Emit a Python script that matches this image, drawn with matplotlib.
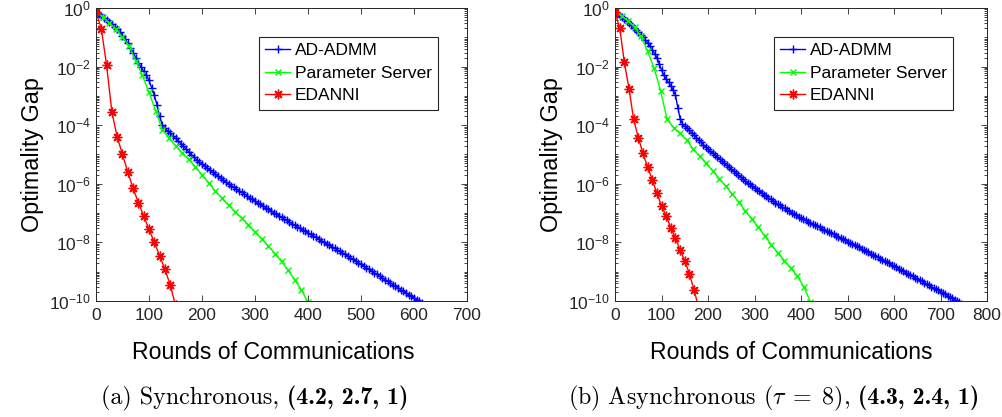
import matplotlib
matplotlib.use("Agg")
import matplotlib.pyplot as plt
import numpy as np
from matplotlib.ticker import FixedLocator, LogLocator, NullFormatter

plt.rcParams["font.family"] = ["Liberation Sans", "DejaVu Sans"]

# ---- data: log10 of optimality gap vs rounds of communications ----
# (a) synchronous
sync_admm_rounds = list(range(0, 620, 5))
sync_admm_log = [
    -0.15, -0.21, -0.28, -0.35, -0.42, -0.49, -0.56, -0.64, -0.73, -0.82,
    -0.94, -1.07, -1.21, -1.36, -1.52, -1.69, -1.86, -2.01, -2.15, -2.30,
    -2.47, -2.72, -2.98, -3.30, -3.70, -3.98, -4.10, -4.19, -4.28, -4.37,
    -4.45, -4.54, -4.63, -4.72, -4.82, -4.91, -5.01, -5.10, -5.18, -5.25,
    -5.32, -5.39, -5.46, -5.53, -5.60, -5.67, -5.74, -5.81, -5.88, -5.94,
    -6.00, -6.06, -6.12, -6.18, -6.24, -6.29, -6.35, -6.41, -6.47, -6.53,
    -6.58, -6.64, -6.70, -6.75, -6.81, -6.87, -6.92, -6.98, -7.04, -7.09,
    -7.15, -7.20, -7.25, -7.31, -7.36, -7.41, -7.46, -7.52, -7.57, -7.62,
    -7.67, -7.73, -7.78, -7.83, -7.88, -7.94, -7.99, -8.04, -8.09, -8.15,
    -8.20, -8.25, -8.31, -8.36, -8.41, -8.47, -8.52, -8.58, -8.64, -8.69,
    -8.75, -8.81, -8.86, -8.92, -8.98, -9.04, -9.09, -9.15, -9.21, -9.27,
    -9.32, -9.38, -9.44, -9.50, -9.55, -9.61, -9.67, -9.73, -9.78, -9.84,
    -9.90, -9.95, -10.01, -10.07,
]
sync_ps_rounds = [i * 12.5 for i in range(33)]
sync_ps_log = [
    -0.15, -0.30, -0.50, -0.72, -1.00, -1.30, -1.80, -2.30, -2.88, -3.50,
    -4.15, -4.43, -4.70, -4.95, -5.17, -5.42, -5.70, -5.97, -6.24, -6.50,
    -6.73, -6.95, -7.18, -7.40, -7.65, -7.88, -8.12, -8.38, -8.65, -8.95,
    -9.28, -9.62, -10.05,
]
sync_ed_rounds = list(range(0, 160, 10))
sync_ed_log = [
    -0.15, -0.70, -1.95, -3.55, -4.40, -5.00, -5.60, -6.15, -6.65, -7.10,
    -7.55, -8.00, -8.45, -8.92, -9.45, -10.15,
]

# (b) asynchronous, tau = 8
async_admm_rounds = list(range(0, 750, 5))
async_admm_log = [
    -0.15, -0.20, -0.26, -0.32, -0.38, -0.44, -0.51, -0.59, -0.67, -0.75,
    -0.83, -0.91, -0.99, -1.08, -1.18, -1.30, -1.43, -1.56, -1.70, -1.90,
    -2.12, -2.30, -2.42, -2.54, -2.66, -2.80, -2.98, -3.40, -3.78, -3.95,
    -4.04, -4.11, -4.18, -4.26, -4.34, -4.42, -4.50, -4.58, -4.66, -4.74,
    -4.81, -4.88, -4.95, -5.02, -5.09, -5.16, -5.23, -5.30, -5.37, -5.44,
    -5.51, -5.57, -5.64, -5.71, -5.77, -5.84, -5.90, -5.96, -6.02, -6.08,
    -6.14, -6.20, -6.26, -6.31, -6.37, -6.42, -6.48, -6.53, -6.58, -6.64,
    -6.69, -6.74, -6.79, -6.84, -6.89, -6.94, -6.98, -7.03, -7.08, -7.12,
    -7.16, -7.21, -7.25, -7.29, -7.33, -7.37, -7.41, -7.45, -7.49, -7.53,
    -7.57, -7.61, -7.65, -7.69, -7.73, -7.77, -7.81, -7.85, -7.89, -7.93,
    -7.97, -8.01, -8.05, -8.09, -8.13, -8.17, -8.21, -8.26, -8.30, -8.34,
    -8.38, -8.42, -8.47, -8.51, -8.55, -8.59, -8.64, -8.68, -8.72, -8.77,
    -8.81, -8.85, -8.90, -8.94, -8.98, -9.03, -9.07, -9.11, -9.16, -9.20,
    -9.24, -9.29, -9.33, -9.37, -9.42, -9.46, -9.51, -9.55, -9.59, -9.64,
    -9.68, -9.73, -9.77, -9.82, -9.86, -9.91, -9.95, -10.00, -10.04, -10.09,
]
async_ps_rounds = list(range(0, 421, 14))
async_ps_log = [
    -0.15, -0.28, -0.43, -0.66, -0.97, -1.48, -2.05, -2.83, -3.80, -4.08,
    -4.28, -4.50, -4.82, -5.06, -5.30, -5.55, -5.82, -6.08, -6.35, -6.63,
    -6.92, -7.20, -7.48, -7.78, -8.08, -8.36, -8.62, -8.88, -9.15, -9.52,
    -10.02,
]
async_ed_rounds = list(range(0, 190, 10))
async_ed_log = [
    -0.15, -0.68, -1.85, -2.75, -3.80, -4.42, -4.96, -5.42, -5.86, -6.32,
    -6.75, -7.10, -7.50, -7.86, -8.26, -8.63, -9.08, -9.62, -10.25,
]

labels = ["AD-ADMM", "Parameter Server", "EDANNI"]
colors = ["#0000ff", "#00ff00", "#ff0000"]
markers = ["+", "x", (8, 2, 0)]
msizes = [5.5, 4.5, 7]

panels = [
    dict(series=[(sync_admm_rounds, sync_admm_log), (sync_ps_rounds, sync_ps_log),
                 (sync_ed_rounds, sync_ed_log)],
         xmax=700, rect=[0.0958, 0.2782, 0.3703, 0.7026], leg_x=0.439,
         caption=[("(a) Synchronous, ", "cmr10"), ("(4.2, 2.7, 1)", "cmb10")],
         cap_x=255, xlab_x=0.478),
    dict(series=[(async_admm_rounds, async_admm_log), (async_ps_rounds, async_ps_log),
                 (async_ed_rounds, async_ed_log)],
         xmax=800, rect=[0.6138, 0.2782, 0.3713, 0.7026], leg_x=0.427,
         caption=[(r"(b) Asynchronous ($\tau\;=\;8$),", "cmr10"), (" (4.3, 2.4, 1)", "cmb10")],
         cap_x=774, xlab_x=0.474),
]

W, H = 1002, 417
fig = plt.figure(figsize=(W / 100, H / 100), dpi=100)
spine_col = "#262626"
renderer = fig.canvas.get_renderer()


def put_caption(parts, xc_px, y_px, size):
    """Place a caption made of pieces in different fonts, centred on xc_px."""
    texts = [fig.text(0, 1 - y_px / H, s, fontfamily=fam, fontsize=size, va="baseline",
                      math_fontfamily="cm") for s, fam in parts]
    widths = [t.get_window_extent(renderer).width for t in texts]
    x = xc_px - sum(widths) / 2
    for t, w in zip(texts, widths):
        t.set_x(x / W)
        x += w


for p in panels:
    ax = fig.add_axes(p["rect"])
    for (xs, ys), lab, c, m, ms in zip(p["series"], labels, colors, markers, msizes):
        ax.semilogy(xs, np.power(10.0, ys), color=c, marker=m, ms=ms, mew=1.0, lw=1.0, label=lab)
    ax.set_xlim(0, p["xmax"])
    ax.set_ylim(1e-10, 1)
    ax.set_xticks(np.arange(0, p["xmax"] + 1, 100))
    ax.yaxis.set_major_locator(FixedLocator([10.0 ** k for k in range(-10, 1, 2)]))
    ax.yaxis.set_minor_locator(LogLocator(base=10, subs=np.arange(1, 10), numticks=30))
    ax.yaxis.set_minor_formatter(NullFormatter())
    ax.tick_params(which="both", direction="in", top=True, right=True, colors=spine_col,
                   labelsize=12.5, width=0.6)
    ax.tick_params(which="major", length=4)
    ax.tick_params(which="minor", length=2)
    ax.tick_params(axis="x", pad=5)
    for s in ax.spines.values():
        s.set_color(spine_col)
        s.set_linewidth(0.7)
    ax.set_xlabel("Rounds of Communications", fontsize=16.6)
    ax.xaxis.set_label_coords(p["xlab_x"], -0.138)
    ax.set_ylabel("Optimality Gap", fontsize=16.8, labelpad=4)
    leg = ax.legend(loc="upper left", bbox_to_anchor=(p["leg_x"], 0.901), borderaxespad=0,
                    fontsize=12.5, handlelength=1.45, handletextpad=0.25, labelspacing=0.42,
                    borderpad=0.36, fancybox=False, framealpha=1, edgecolor="#262626")
    leg.get_frame().set_linewidth(0.8)
    put_caption(p["caption"], p["cap_x"], 404, 17.3)

fig.savefig("out.png", dpi=100)
